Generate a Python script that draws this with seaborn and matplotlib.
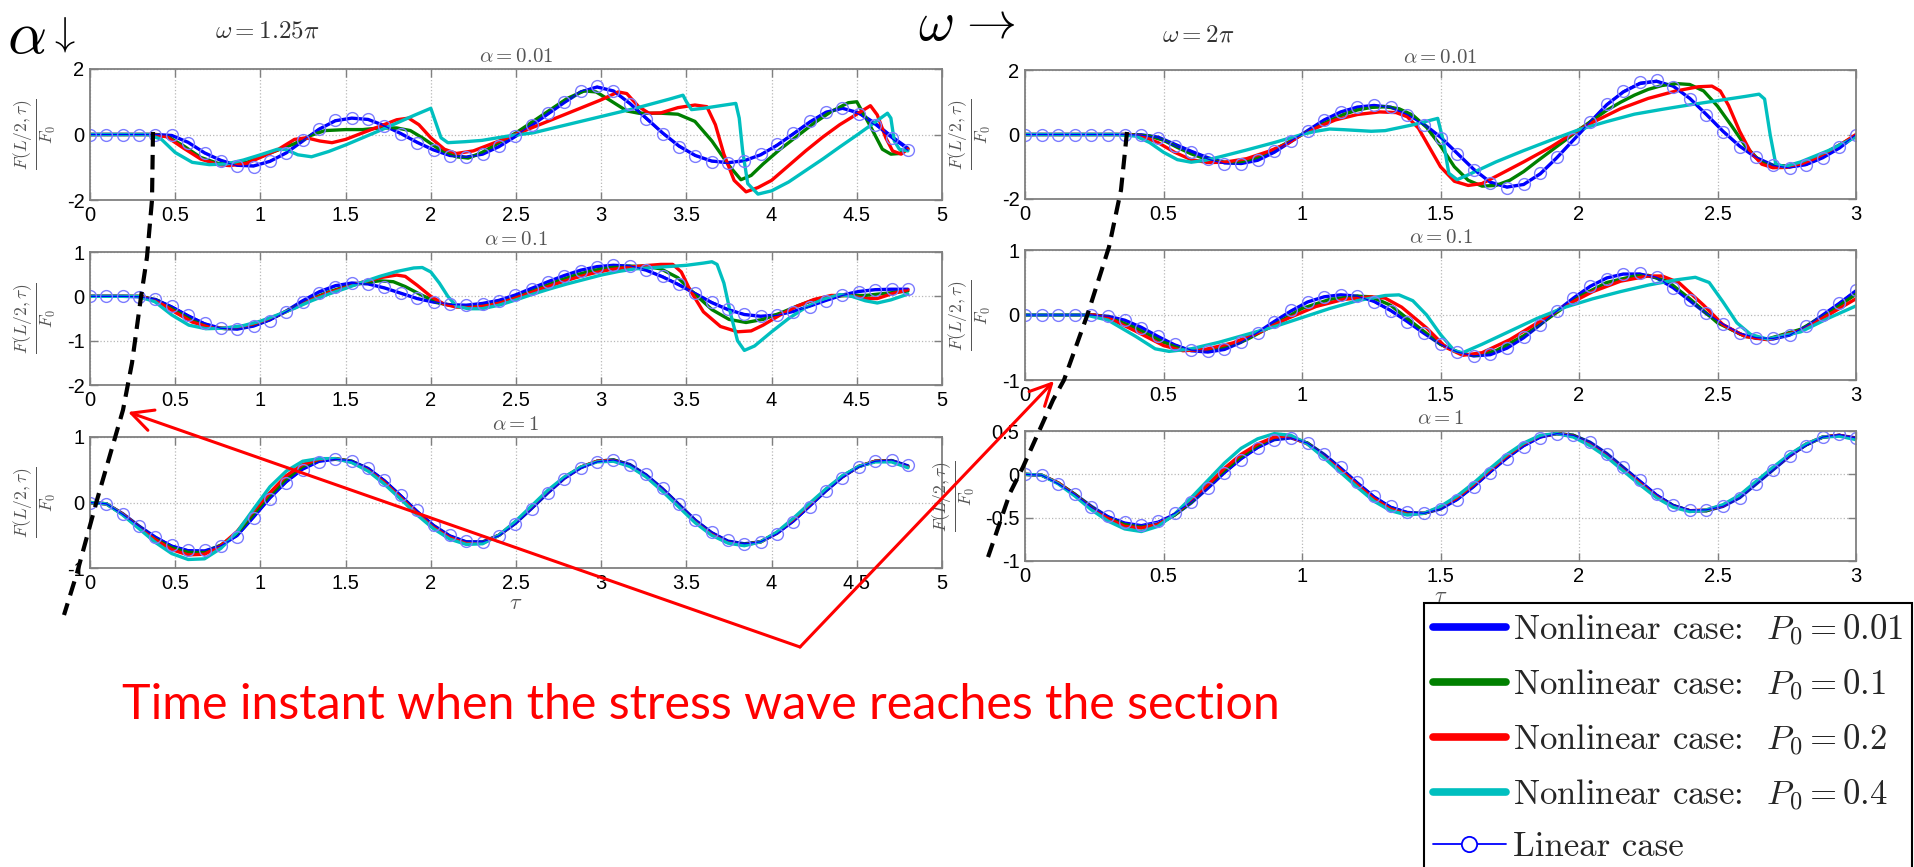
import numpy as np
import matplotlib
matplotlib.use("Agg")
import matplotlib.pyplot as plt
from matplotlib.lines import Line2D
from matplotlib.patches import FancyArrowPatch
from matplotlib.ticker import FuncFormatter
import seaborn as sns

# ---------------------------------------------------------------------------
# Sampling instants of the linear solution (one marker per sample)
# ---------------------------------------------------------------------------
TAU_W125 = np.linspace(0.0, 4.8, 51)
TAU_W2 = np.linspace(0.0, 3.0, 51)

P0_VALUES = [0.01, 0.1, 0.2, 0.4]
ALPHAS = [0.01, 0.1, 1]
OMEGA_LABELS = [r"$\omega = 1.25\pi$", r"$\omega = 2\pi$"]

# ---------------------------------------------------------------------------
# omega = 1.25 pi, alpha = 0.01
# ---------------------------------------------------------------------------
W125_A001_LIN = [0, 0, 0, 0, 0, -0.02, -0.25, -0.58, -0.80, -0.96,
                 -0.98, -0.80, -0.55, -0.18, 0.18, 0.44, 0.51, 0.46, 0.26, 0.02,
                 -0.25, -0.48, -0.65, -0.70, -0.60, -0.36, -0.04, 0.30, 0.66, 1.00,
                 1.32, 1.47, 1.32, 0.92, 0.46, 0.02, -0.38, -0.66, -0.83, -0.88,
                 -0.80, -0.60, -0.30, 0.05, 0.40, 0.70, 0.80, 0.62, 0.28, -0.12,
                 -0.48]
W125_A001_P001 = [0, 0, 0, 0, 0, -0.03, -0.24, -0.56, -0.79, -0.94,
                  -0.96, -0.82, -0.56, -0.20, 0.16, 0.42, 0.50, 0.46, 0.27, 0.03,
                  -0.24, -0.47, -0.64, -0.69, -0.60, -0.37, -0.06, 0.28, 0.63, 0.98,
                  1.30, 1.45, 1.33, 0.95, 0.50, 0.05, -0.35, -0.64, -0.81, -0.86,
                  -0.80, -0.62, -0.33, 0.02, 0.38, 0.68, 0.80, 0.66, 0.34, -0.06,
                  -0.42]
W125_A001_P01_TAU = [0, 0.36, 0.45, 0.55, 0.65, 0.75, 0.82, 0.92, 1.0, 1.1,
                     1.2, 1.3, 1.38, 1.5, 1.6, 1.7, 1.8, 1.88, 1.95, 2.05,
                     2.15, 2.22, 2.3, 2.4, 2.5, 2.6, 2.7, 2.8, 2.9, 2.97,
                     3.05, 3.15, 3.22, 3.35, 3.45, 3.55, 3.65, 3.75, 3.82, 3.88,
                     3.95, 4.05, 4.15, 4.25, 4.35, 4.45, 4.5, 4.58, 4.65, 4.7,
                     4.75, 4.8]
W125_A001_P01 = [0, 0, -0.05, -0.35, -0.7, -0.88, -0.92, -0.85, -0.68, -0.48,
                 -0.28, -0.02, 0.12, 0.15, 0.15, 0.2, 0.2, 0.12, -0.1, -0.45,
                 -0.68, -0.72, -0.55, -0.25, 0.05, 0.4, 0.75, 1.1, 1.33, 1.3,
                 1.05, 0.72, 0.65, 0.65, 0.62, 0.4, -0.2, -0.95, -1.38, -1.25,
                 -0.9, -0.45, -0.05, 0.35, 0.7, 0.97, 1.0, 0.25, -0.45, -0.6,
                 -0.58, -0.45]
W125_A001_P02_TAU = [0, 0.36, 0.45, 0.55, 0.65, 0.75, 0.82, 0.92, 1.0, 1.1,
                     1.2, 1.27, 1.35, 1.42, 1.5, 1.6, 1.7, 1.8, 1.87, 1.93,
                     2.0, 2.08, 2.15, 2.25, 2.4, 2.6, 2.8, 3.0, 3.1, 3.15,
                     3.22, 3.28, 3.35, 3.45, 3.55, 3.62, 3.67, 3.72, 3.78, 3.85,
                     3.92, 4.0, 4.1, 4.2, 4.3, 4.4, 4.5, 4.58, 4.62, 4.67,
                     4.71, 4.76, 4.8]
W125_A001_P02 = [0, 0, -0.07, -0.42, -0.75, -0.92, -0.95, -0.88, -0.7, -0.47,
                 -0.15, -0.1, -0.2, -0.25, -0.15, 0.05, 0.25, 0.45, 0.5, 0.3,
                 -0.1, -0.45, -0.58, -0.5, -0.2, 0.22, 0.64, 1.06, 1.3, 1.25,
                 0.85, 0.65, 0.66, 0.82, 0.9, 0.85, 0.3, -0.6, -1.4, -1.75,
                 -1.62, -1.4, -0.95, -0.5, -0.08, 0.3, 0.62, 0.88, 0.6, -0.1,
                 -0.5, -0.6, -0.44]
W125_A001_P04_TAU = [0, 0.34, 0.42, 0.5, 0.6, 0.7, 0.8, 0.9, 1.0, 1.1,
                     1.15, 1.22, 1.3, 1.4, 1.5, 1.6, 1.7, 1.8, 1.9, 2.0,
                     2.02, 2.06, 2.1, 2.2, 2.3, 2.45, 2.6, 2.8, 3.0, 3.2,
                     3.4, 3.48, 3.5, 3.53, 3.6, 3.7, 3.79, 3.81, 3.83, 3.86,
                     3.92, 4.0, 4.1, 4.2, 4.3, 4.4, 4.5, 4.6, 4.68, 4.7,
                     4.72, 4.75, 4.8]
W125_A001_P04 = [0, 0, -0.15, -0.55, -0.85, -0.92, -0.9, -0.78, -0.62, -0.45,
                 -0.46, -0.62, -0.68, -0.52, -0.32, -0.1, 0.12, 0.35, 0.58, 0.8,
                 0.5, -0.1, -0.25, -0.22, -0.18, -0.05, 0.05, 0.3, 0.55, 0.8,
                 1.08, 1.2, 1.0, 0.76, 0.8, 0.88, 0.95, 0.5, -0.5, -1.5,
                 -1.82, -1.72, -1.45, -1.1, -0.75, -0.38, -0.02, 0.35, 0.65, 0.5,
                 -0.2, -0.45, -0.5]

# ---------------------------------------------------------------------------
# omega = 1.25 pi, alpha = 0.1
# ---------------------------------------------------------------------------
W125_A01_LIN = [0, 0, 0, -0.01, -0.06, -0.22, -0.42, -0.6, -0.72, -0.74,
                -0.68, -0.55, -0.35, -0.12, 0.08, 0.22, 0.29, 0.28, 0.2, 0.08,
                -0.04, -0.12, -0.18, -0.2, -0.17, -0.1, 0.02, 0.17, 0.32, 0.46,
                0.58, 0.67, 0.71, 0.69, 0.6, 0.46, 0.28, 0.08, -0.12, -0.28,
                -0.4, -0.45, -0.43, -0.35, -0.23, -0.1, 0.02, 0.1, 0.15, 0.17,
                0.17]
W125_A01_P001 = [0, 0, 0, -0.01, -0.07, -0.24, -0.44, -0.62, -0.72, -0.74,
                 -0.67, -0.53, -0.33, -0.1, 0.1, 0.24, 0.3, 0.28, 0.19, 0.07,
                 -0.05, -0.13, -0.19, -0.2, -0.16, -0.09, 0.03, 0.18, 0.33, 0.47,
                 0.59, 0.67, 0.7, 0.68, 0.59, 0.44, 0.26, 0.06, -0.14, -0.3,
                 -0.41, -0.45, -0.42, -0.34, -0.22, -0.09, 0.03, 0.11, 0.15, 0.16,
                 0.16]
W125_A01_P01_TAU = [0, 0.3, 0.4, 0.5, 0.6, 0.7, 0.8, 0.9, 1.0, 1.1,
                    1.2, 1.3, 1.4, 1.5, 1.6, 1.7, 1.78, 1.85, 1.95, 2.05,
                    2.15, 2.25, 2.35, 2.45, 2.55, 2.65, 2.75, 2.85, 2.95, 3.05,
                    3.15, 3.25, 3.35, 3.45, 3.55, 3.65, 3.75, 3.85, 3.95, 4.05,
                    4.15, 4.25, 4.35, 4.45, 4.55, 4.65, 4.8]
W125_A01_P01 = [0, 0, -0.1, -0.32, -0.55, -0.7, -0.73, -0.7, -0.6, -0.44,
                -0.25, -0.06, 0.1, 0.22, 0.3, 0.35, 0.33, 0.22, 0.02, -0.15,
                -0.23, -0.24, -0.18, -0.08, 0.05, 0.2, 0.35, 0.48, 0.58, 0.65,
                0.68, 0.68, 0.62, 0.42, 0.05, -0.3, -0.52, -0.59, -0.52, -0.38,
                -0.22, -0.08, 0.0, 0.02, 0.02, 0.06, 0.12]
W125_A01_P02_TAU = [0, 0.3, 0.4, 0.5, 0.6, 0.7, 0.78, 0.9, 1.0, 1.1,
                    1.2, 1.3, 1.4, 1.5, 1.6, 1.7, 1.8, 1.85, 1.92, 2.0,
                    2.08, 2.15, 2.25, 2.35, 2.45, 2.55, 2.65, 2.75, 2.85, 2.95,
                    3.05, 3.15, 3.25, 3.35, 3.42, 3.47, 3.52, 3.6, 3.7, 3.8,
                    3.88, 3.95, 4.05, 4.15, 4.25, 4.35, 4.45, 4.55, 4.62, 4.7,
                    4.8]
W125_A01_P02 = [0, 0, -0.12, -0.36, -0.58, -0.7, -0.72, -0.68, -0.58, -0.43,
                -0.26, -0.08, 0.08, 0.2, 0.32, 0.42, 0.48, 0.45, 0.25, 0.0,
                -0.18, -0.24, -0.25, -0.2, -0.1, 0.03, 0.17, 0.3, 0.42, 0.52,
                0.6, 0.65, 0.69, 0.72, 0.72, 0.55, 0.15, -0.35, -0.68, -0.8,
                -0.78, -0.65, -0.42, -0.22, -0.07, 0.02, 0.02, -0.05, -0.05, 0.05,
                0.15]
W125_A01_P04_TAU = [0, 0.28, 0.38, 0.48, 0.58, 0.68, 0.78, 0.9, 1.0, 1.1,
                    1.2, 1.3, 1.4, 1.5, 1.6, 1.7, 1.8, 1.9, 1.95, 2.0,
                    2.05, 2.1, 2.15, 2.22, 2.3, 2.4, 2.5, 2.6, 2.7, 2.8,
                    2.9, 3.0, 3.1, 3.2, 3.35, 3.5, 3.6, 3.65, 3.68, 3.72,
                    3.76, 3.8, 3.84, 3.9, 4.0, 4.1, 4.2, 4.3, 4.4, 4.47,
                    4.55, 4.62, 4.7, 4.8]
W125_A01_P04 = [0, 0, -0.12, -0.42, -0.65, -0.73, -0.72, -0.66, -0.56, -0.42,
                -0.27, -0.1, 0.05, 0.18, 0.32, 0.45, 0.56, 0.64, 0.65, 0.55,
                0.3, 0.0, -0.22, -0.28, -0.28, -0.2, -0.08, 0.05, 0.17, 0.28,
                0.38, 0.48, 0.56, 0.62, 0.66, 0.7, 0.75, 0.78, 0.72, 0.3,
                -0.4, -1.0, -1.22, -1.12, -0.8, -0.5, -0.25, -0.07, 0.04, 0.0,
                -0.1, -0.15, -0.08, 0.05]

# ---------------------------------------------------------------------------
# omega = 1.25 pi, alpha = 1
# ---------------------------------------------------------------------------
W125_A1_LIN = [0, -0.02, -0.18, -0.36, -0.52, -0.65, -0.72, -0.73, -0.66, -0.52,
               -0.24, 0.06, 0.3, 0.5, 0.62, 0.66, 0.64, 0.53, 0.35, 0.12,
               -0.12, -0.34, -0.5, -0.59, -0.6, -0.51, -0.33, -0.1, 0.14, 0.36,
               0.52, 0.62, 0.65, 0.58, 0.43, 0.22, -0.02, -0.26, -0.45, -0.58,
               -0.63, -0.6, -0.48, -0.3, -0.07, 0.17, 0.38, 0.54, 0.63, 0.65,
               0.57]
W125_A1_P001 = [0, -0.02, -0.17, -0.36, -0.53, -0.67, -0.74, -0.74, -0.66, -0.5,
                -0.22, 0.07, 0.32, 0.51, 0.63, 0.66, 0.63, 0.52, 0.33, 0.1,
                -0.14, -0.35, -0.51, -0.6, -0.6, -0.5, -0.32, -0.09, 0.15, 0.37,
                0.53, 0.63, 0.65, 0.58, 0.42, 0.21, -0.03, -0.27, -0.46, -0.59,
                -0.63, -0.6, -0.47, -0.28, -0.05, 0.18, 0.39, 0.55, 0.63, 0.64,
                0.56]
W125_A1_P01 = [0, -0.02, -0.18, -0.37, -0.55, -0.69, -0.76, -0.76, -0.65, -0.47,
               -0.18, 0.1, 0.36, 0.55, 0.65, 0.67, 0.63, 0.51, 0.32, 0.09,
               -0.15, -0.36, -0.52, -0.61, -0.61, -0.5, -0.31, -0.08, 0.16, 0.38,
               0.54, 0.63, 0.65, 0.57, 0.41, 0.2, -0.04, -0.28, -0.47, -0.6,
               -0.64, -0.6, -0.46, -0.27, -0.04, 0.19, 0.4, 0.55, 0.63, 0.64,
               0.55]
W125_A1_P02 = [0, -0.02, -0.18, -0.38, -0.57, -0.72, -0.8, -0.79, -0.66, -0.44,
               -0.13, 0.15, 0.41, 0.58, 0.66, 0.67, 0.62, 0.5, 0.31, 0.08,
               -0.16, -0.37, -0.53, -0.62, -0.62, -0.5, -0.3, -0.07, 0.17, 0.38,
               0.54, 0.63, 0.64, 0.56, 0.4, 0.19, -0.05, -0.29, -0.48, -0.61,
               -0.65, -0.6, -0.46, -0.26, -0.03, 0.2, 0.4, 0.55, 0.63, 0.63,
               0.54]
W125_A1_P04 = [0, -0.02, -0.19, -0.4, -0.61, -0.78, -0.87, -0.86, -0.7, -0.45,
               -0.1, 0.24, 0.48, 0.63, 0.67, 0.67, 0.61, 0.48, 0.28, 0.05,
               -0.19, -0.4, -0.56, -0.64, -0.63, -0.5, -0.29, -0.05, 0.19, 0.39,
               0.54, 0.62, 0.63, 0.55, 0.39, 0.17, -0.07, -0.31, -0.5, -0.62,
               -0.66, -0.6, -0.45, -0.24, -0.01, 0.21, 0.41, 0.55, 0.62, 0.62,
               0.53]

# ---------------------------------------------------------------------------
# omega = 2 pi, alpha = 0.01
# ---------------------------------------------------------------------------
W2_A001_LIN = [0, 0, 0, 0, 0, 0, 0, -0.02, -0.10, -0.35,
               -0.55, -0.76, -0.91, -0.92, -0.78, -0.52, -0.20, 0.12, 0.45, 0.70,
               0.86, 0.90, 0.84, 0.62, 0.30, -0.10, -0.60, -1.10, -1.50, -1.65,
               -1.55, -1.20, -0.70, -0.15, 0.40, 0.95, 1.35, 1.62, 1.68, 1.48,
               1.10, 0.60, 0.08, -0.38, -0.70, -0.96, -1.04, -0.96, -0.72, -0.40,
               0.0]
W2_A001_P001 = [0, 0, 0, 0, 0, 0, 0, -0.01, -0.08, -0.30,
                -0.52, -0.72, -0.87, -0.90, -0.80, -0.55, -0.22, 0.12, 0.45, 0.70,
                0.85, 0.90, 0.85, 0.64, 0.32, -0.08, -0.58, -1.08, -1.48, -1.63,
                -1.55, -1.22, -0.72, -0.17, 0.38, 0.92, 1.32, 1.58, 1.65, 1.50,
                1.12, 0.62, 0.10, -0.36, -0.72, -0.95, -1.00, -0.93, -0.72, -0.42,
                -0.02]
W2_A001_P01_TAU = [0, 0.38, 0.45, 0.5, 0.55, 0.6, 0.65, 0.7, 0.75, 0.8,
                   0.85, 0.9, 0.95, 1.0, 1.05, 1.1, 1.15, 1.2, 1.25, 1.3,
                   1.35, 1.4, 1.45, 1.5, 1.55, 1.6, 1.65, 1.7, 1.75, 1.8,
                   1.85, 1.9, 1.95, 2.0, 2.05, 2.1, 2.15, 2.2, 2.25, 2.3,
                   2.35, 2.4, 2.45, 2.5, 2.55, 2.6, 2.65, 2.7, 2.75, 2.8,
                   2.85, 2.9, 2.95, 3.0]
W2_A001_P01 = [0, 0, -0.05, -0.18, -0.4, -0.6, -0.75, -0.85, -0.87, -0.82,
               -0.68, -0.47, -0.24, 0.0, 0.22, 0.43, 0.62, 0.76, 0.84, 0.86,
               0.8, 0.6, 0.22, -0.35, -1.0, -1.42, -1.6, -1.58, -1.42, -1.15,
               -0.82, -0.5, -0.18, 0.15, 0.45, 0.75, 1.0, 1.22, 1.4, 1.52,
               1.58, 1.55, 1.35, 0.88, 0.28, -0.35, -0.8, -0.97, -0.98, -0.88,
               -0.72, -0.52, -0.28, -0.03]
W2_A001_P02_TAU = [0, 0.36, 0.42, 0.48, 0.54, 0.6, 0.66, 0.72, 0.8, 0.88,
                   0.95, 1.0, 1.05, 1.12, 1.2, 1.28, 1.34, 1.38, 1.42, 1.46,
                   1.5, 1.55, 1.6, 1.65, 1.7, 1.8, 1.9, 1.97, 2.05, 2.15,
                   2.25, 2.35, 2.43, 2.48, 2.51, 2.54, 2.58, 2.62, 2.66, 2.7,
                   2.75, 2.8, 2.85, 2.9, 2.95, 3.0]
W2_A001_P02 = [0, 0, -0.05, -0.25, -0.55, -0.78, -0.87, -0.86, -0.75, -0.52,
               -0.27, 0.0, 0.2, 0.45, 0.62, 0.7, 0.68, 0.55, 0.2, -0.4,
               -1.0, -1.45, -1.58, -1.52, -1.3, -0.85, -0.38, 0.0, 0.38, 0.8,
               1.12, 1.35, 1.48, 1.5, 1.35, 0.9, 0.1, -0.55, -0.92, -1.03,
               -1.02, -0.92, -0.75, -0.53, -0.28, 0.0]
W2_A001_P04_TAU = [0, 0.33, 0.4, 0.45, 0.5, 0.55, 0.6, 0.65, 0.7, 0.8,
                   0.9, 1.0, 1.05, 1.1, 1.15, 1.25, 1.3, 1.4, 1.49, 1.51,
                   1.53, 1.56, 1.6, 1.7, 1.8, 1.9, 2.0, 2.1, 2.2, 2.3,
                   2.4, 2.5, 2.6, 2.65, 2.67, 2.69, 2.71, 2.74, 2.8, 2.9,
                   3.0]
W2_A001_P04 = [0, 0, -0.05, -0.25, -0.55, -0.78, -0.86, -0.8, -0.7, -0.48,
               -0.25, 0.0, 0.1, 0.17, 0.15, 0.1, 0.12, 0.3, 0.5, -0.2,
               -1.2, -1.4, -1.25, -0.85, -0.5, -0.17, 0.15, 0.4, 0.63, 0.78,
               0.92, 1.05, 1.18, 1.25, 1.1, 0.0, -0.9, -1.0, -0.85, -0.5,
               -0.08]

# ---------------------------------------------------------------------------
# omega = 2 pi, alpha = 0.1
# ---------------------------------------------------------------------------
W2_A01_LIN = [0, 0, 0, 0, 0, -0.02, -0.08, -0.2, -0.33, -0.45,
              -0.54, -0.56, -0.52, -0.42, -0.27, -0.1, 0.07, 0.2, 0.28, 0.31,
              0.29, 0.2, 0.06, -0.1, -0.28, -0.45, -0.57, -0.63, -0.6, -0.5,
              -0.34, -0.15, 0.06, 0.26, 0.44, 0.56, 0.63, 0.64, 0.58, 0.42,
              0.23, 0.03, -0.14, -0.28, -0.35, -0.36, -0.31, -0.17, 0.0, 0.19,
              0.39]
W2_A01_P001 = [0, 0, 0, 0, 0, -0.02, -0.08, -0.19, -0.33, -0.46,
               -0.55, -0.57, -0.53, -0.42, -0.27, -0.1, 0.06, 0.2, 0.28, 0.31,
               0.29, 0.21, 0.07, -0.1, -0.28, -0.45, -0.57, -0.63, -0.61, -0.51,
               -0.35, -0.15, 0.06, 0.26, 0.44, 0.57, 0.63, 0.63, 0.57, 0.42,
               0.22, 0.02, -0.15, -0.29, -0.36, -0.37, -0.31, -0.18, 0.0, 0.18,
               0.37]
W2_A01_P01_TAU = [0, 0.25, 0.3, 0.4, 0.5, 0.58, 0.65, 0.72, 0.8, 0.9,
                  1.0, 1.1, 1.2, 1.25, 1.32, 1.4, 1.5, 1.58, 1.63, 1.7,
                  1.8, 1.9, 2.0, 2.1, 2.2, 2.25, 2.32, 2.4, 2.5, 2.6,
                  2.68, 2.8, 2.9, 3.0]
W2_A01_P01 = [0, 0, -0.03, -0.2, -0.42, -0.53, -0.54, -0.5, -0.38, -0.15,
              0.1, 0.24, 0.29, 0.28, 0.15, -0.12, -0.45, -0.6, -0.62, -0.55,
              -0.32, -0.02, 0.28, 0.5, 0.6, 0.61, 0.52, 0.25, -0.12, -0.33,
              -0.37, -0.22, 0.03, 0.32]
W2_A01_P02_TAU = [0, 0.25, 0.3, 0.4, 0.5, 0.57, 0.65, 0.75, 0.85, 0.95,
                  1.05, 1.15, 1.25, 1.3, 1.36, 1.45, 1.52, 1.58, 1.65, 1.75,
                  1.85, 1.95, 2.05, 2.15, 2.25, 2.3, 2.36, 2.45, 2.52, 2.6,
                  2.68, 2.8, 2.9, 3.0]
W2_A01_P02 = [0, 0, -0.04, -0.25, -0.47, -0.55, -0.53, -0.43, -0.26, -0.05,
              0.13, 0.24, 0.28, 0.26, 0.12, -0.2, -0.5, -0.62, -0.58, -0.38,
              -0.12, 0.14, 0.36, 0.52, 0.6, 0.6, 0.5, 0.15, -0.15, -0.33,
              -0.38, -0.24, 0.0, 0.25]
W2_A01_P04_TAU = [0, 0.22, 0.3, 0.4, 0.47, 0.52, 0.6, 0.7, 0.8, 0.9,
                  1.0, 1.1, 1.2, 1.3, 1.35, 1.4, 1.45, 1.5, 1.55, 1.58,
                  1.65, 1.75, 1.85, 1.95, 2.05, 2.15, 2.25, 2.35, 2.42, 2.47,
                  2.52, 2.57, 2.62, 2.68, 2.8, 2.9, 3.0]
W2_A01_P04 = [0, 0, -0.08, -0.33, -0.52, -0.56, -0.52, -0.42, -0.3, -0.18,
              -0.04, 0.1, 0.22, 0.3, 0.31, 0.22, 0.0, -0.3, -0.55, -0.58,
              -0.45, -0.25, -0.05, 0.12, 0.25, 0.36, 0.46, 0.54, 0.58, 0.5,
              0.2, -0.12, -0.3, -0.37, -0.26, -0.05, 0.14]

# ---------------------------------------------------------------------------
# omega = 2 pi, alpha = 1
# ---------------------------------------------------------------------------
W2_A1_LIN = [0, -0.01, -0.11, -0.23, -0.38, -0.48, -0.55, -0.58, -0.54, -0.45,
             -0.32, -0.16, 0.01, 0.17, 0.3, 0.4, 0.42, 0.36, 0.23, 0.08,
             -0.09, -0.25, -0.37, -0.43, -0.45, -0.4, -0.3, -0.15, 0.02, 0.18,
             0.32, 0.42, 0.47, 0.45, 0.37, 0.24, 0.08, -0.07, -0.23, -0.35,
             -0.41, -0.41, -0.37, -0.27, -0.11, 0.05, 0.21, 0.33, 0.43, 0.46,
             0.42]
W2_A1_P001 = [0, -0.01, -0.1, -0.23, -0.37, -0.49, -0.57, -0.6, -0.57, -0.47,
              -0.33, -0.16, 0.02, 0.18, 0.31, 0.4, 0.42, 0.36, 0.23, 0.07,
              -0.1, -0.26, -0.38, -0.44, -0.45, -0.4, -0.29, -0.14, 0.03, 0.19,
              0.33, 0.43, 0.47, 0.45, 0.37, 0.24, 0.08, -0.08, -0.24, -0.36,
              -0.42, -0.42, -0.37, -0.27, -0.11, 0.05, 0.21, 0.34, 0.43, 0.45,
              0.42]
W2_A1_P01 = [0, -0.01, -0.1, -0.23, -0.38, -0.5, -0.58, -0.61, -0.58, -0.47,
             -0.32, -0.14, 0.04, 0.2, 0.33, 0.41, 0.43, 0.36, 0.22, 0.06,
             -0.11, -0.27, -0.39, -0.45, -0.45, -0.39, -0.28, -0.13, 0.04, 0.2,
             0.34, 0.44, 0.47, 0.45, 0.36, 0.23, 0.07, -0.09, -0.25, -0.36,
             -0.42, -0.42, -0.36, -0.26, -0.1, 0.06, 0.22, 0.34, 0.43, 0.45,
             0.41]
W2_A1_P02 = [0, -0.01, -0.1, -0.24, -0.39, -0.51, -0.6, -0.62, -0.58, -0.46,
             -0.3, -0.12, 0.07, 0.23, 0.35, 0.43, 0.43, 0.35, 0.21, 0.05,
             -0.12, -0.28, -0.4, -0.46, -0.45, -0.38, -0.27, -0.12, 0.05, 0.21,
             0.35, 0.44, 0.47, 0.44, 0.35, 0.22, 0.06, -0.1, -0.25, -0.37,
             -0.42, -0.41, -0.36, -0.25, -0.09, 0.07, 0.22, 0.35, 0.43, 0.45,
             0.41]
W2_A1_P04 = [0, -0.01, -0.11, -0.25, -0.41, -0.54, -0.63, -0.66, -0.6, -0.46,
             -0.27, -0.07, 0.13, 0.3, 0.41, 0.47, 0.45, 0.35, 0.19, 0.02,
             -0.15, -0.31, -0.42, -0.47, -0.45, -0.37, -0.25, -0.1, 0.07, 0.23,
             0.36, 0.45, 0.47, 0.43, 0.33, 0.2, 0.04, -0.12, -0.27, -0.38,
             -0.43, -0.41, -0.35, -0.24, -0.08, 0.08, 0.23, 0.35, 0.43, 0.44,
             0.4]

# ---------------------------------------------------------------------------
# Styling
# ---------------------------------------------------------------------------
sns.set_theme(style="white")
plt.rcParams.update({
    "font.family": ["Liberation Sans", "DejaVu Sans"],
    "mathtext.fontset": "cm",
    "axes.unicode_minus": False,
})

W, H = 1915, 867
fig = plt.figure(figsize=(W / 100, H / 100), dpi=100)


def fx(px):
    return px / W


def fy(py):
    return 1.0 - py / H


def rect(x0, y0, x1, y1):
    return [fx(x0), fy(y1), (x1 - x0) / W, (y1 - y0) / H]


FRAME_GRAY = "#808080"
TEXT_GRAY = "#555555"
SERIES_COLORS = ["#0000ff", "#008000", "#ff0000", "#00bfbf"]
MARKER_EDGE = "#7c7cff"
num_fmt = FuncFormatter(lambda v, _: f"{v:g}")


def draw_panel(box, xmax, ylim, yticks, alpha, tau_grid, lin, series, show_xlabel):
    ax = fig.add_axes(box)
    for (tau, vals), col in zip(series, SERIES_COLORS):
        sns.lineplot(x=np.asarray(tau, float), y=np.asarray(vals, float), ax=ax,
                     color=col, linewidth=2.4, estimator=None, sort=False,
                     legend=False)
    sns.lineplot(x=tau_grid, y=np.asarray(lin, float), ax=ax, color="#0000ff",
                 linewidth=0.9, marker="o", markersize=8.5,
                 markerfacecolor="none", markeredgecolor=MARKER_EDGE,
                 markeredgewidth=1.0, estimator=None, sort=False, legend=False)
    ax.set_xlim(0, xmax)
    ax.set_ylim(*ylim)
    ax.set_xticks(np.arange(0, xmax + 0.01, 0.5))
    ax.set_yticks(yticks)
    ax.xaxis.set_major_formatter(num_fmt)
    ax.yaxis.set_major_formatter(num_fmt)
    ax.grid(True, linestyle=":", color="#b8b8b8", linewidth=0.9)
    ax.set_axisbelow(True)
    ax.tick_params(direction="in", length=6, width=1, color=FRAME_GRAY,
                   labelcolor="black", labelsize=14.5, pad=4,
                   bottom=True, left=True, top=True, right=True)
    for sp in ax.spines.values():
        sp.set_color(FRAME_GRAY)
        sp.set_linewidth(1.3)
    ax.set_title(rf"$\alpha = {alpha:g}$", color=TEXT_GRAY, fontsize=15, pad=5)
    ax.set_ylabel(r"$\frac{F(L/2,\tau)}{F_0}$", color=TEXT_GRAY, fontsize=18,
                  labelpad=6)
    if show_xlabel:
        ax.set_xlabel(r"$\tau$", color=TEXT_GRAY, fontsize=16, labelpad=0)
    else:
        ax.set_xlabel("")
    return ax


left_boxes = [rect(90, 69, 942, 200), rect(90, 252, 942, 385), rect(90, 437, 942, 568)]
right_boxes = [rect(1025, 70, 1856, 199), rect(1025, 250, 1856, 380), rect(1025, 431, 1856, 561)]
left_ylims = [((-2, 2), [-2, 0, 2]), ((-2, 1), [-2, -1, 0, 1]), ((-1, 1), [-1, 0, 1])]
right_ylims = [((-2, 2), [-2, 0, 2]), ((-1, 1), [-1, 0, 1]), ((-1, 0.5), [-1, -0.5, 0, 0.5])]

left_data = [
    (W125_A001_LIN, [(TAU_W125, W125_A001_P001), (W125_A001_P01_TAU, W125_A001_P01),
                     (W125_A001_P02_TAU, W125_A001_P02), (W125_A001_P04_TAU, W125_A001_P04)]),
    (W125_A01_LIN, [(TAU_W125, W125_A01_P001), (W125_A01_P01_TAU, W125_A01_P01),
                    (W125_A01_P02_TAU, W125_A01_P02), (W125_A01_P04_TAU, W125_A01_P04)]),
    (W125_A1_LIN, [(TAU_W125, W125_A1_P001), (TAU_W125, W125_A1_P01),
                   (TAU_W125, W125_A1_P02), (TAU_W125, W125_A1_P04)]),
]
right_data = [
    (W2_A001_LIN, [(TAU_W2, W2_A001_P001), (W2_A001_P01_TAU, W2_A001_P01),
                   (W2_A001_P02_TAU, W2_A001_P02), (W2_A001_P04_TAU, W2_A001_P04)]),
    (W2_A01_LIN, [(TAU_W2, W2_A01_P001), (W2_A01_P01_TAU, W2_A01_P01),
                  (W2_A01_P02_TAU, W2_A01_P02), (W2_A01_P04_TAU, W2_A01_P04)]),
    (W2_A1_LIN, [(TAU_W2, W2_A1_P001), (TAU_W2, W2_A1_P01),
                 (TAU_W2, W2_A1_P02), (TAU_W2, W2_A1_P04)]),
]

for i in range(3):
    (ylim, yt), (lin, ser) = left_ylims[i], left_data[i]
    draw_panel(left_boxes[i], 5, ylim, yt, ALPHAS[i], TAU_W125, lin, ser, i == 2)
    (ylim, yt), (lin, ser) = right_ylims[i], right_data[i]
    draw_panel(right_boxes[i], 3, ylim, yt, ALPHAS[i], TAU_W2, lin, ser, i == 2)

# column headers
fig.text(fx(267), fy(31), OMEGA_LABELS[0], color="#333333", fontsize=18,
         ha="center", va="center")
fig.text(fx(1198), fy(35), OMEGA_LABELS[1], color="#333333", fontsize=18,
         ha="center", va="center")
fig.text(fx(7), fy(53), r"$\alpha$", fontsize=44, color="black", ha="left", va="baseline")
fig.text(fx(47), fy(45), r"$\downarrow$", fontsize=29, color="black", ha="left", va="baseline")
fig.text(fx(918), fy(40), r"$\omega$", fontsize=40, color="black", ha="left", va="baseline")
fig.text(fx(958), fy(37), r"$\rightarrow$", fontsize=36, color="black", ha="left", va="baseline")

# wave-front arrival curves
FRONT_LEFT = [(153, 132), (152, 200), (147, 257), (141, 297), (132, 363),
              (123, 410), (97, 500), (77, 573), (64, 615)]
FRONT_RIGHT = [(1127, 132), (1121, 190), (1109, 247), (1088, 313), (1064, 380),
               (1053, 400), (1023, 467), (1010, 493), (986, 563)]
for path in (FRONT_LEFT, FRONT_RIGHT):
    fig.add_artist(Line2D([fx(p[0]) for p in path], [fy(p[1]) for p in path],
                          transform=fig.transFigure, color="black", linewidth=3,
                          linestyle=(0, (3.5, 2.0))))

# pointer arrows and note
APEX = (800, 647)
for tip in [(128, 412), (1054, 381)]:
    fig.add_artist(FancyArrowPatch(posA=(fx(APEX[0]), fy(APEX[1])),
                                   posB=(fx(tip[0]), fy(tip[1])),
                                   transform=fig.transFigure, color="red",
                                   linewidth=2.2, shrinkA=0, shrinkB=0,
                                   arrowstyle="->,head_length=1.1,head_width=0.55",
                                   mutation_scale=14))
note = fig.text(fx(122), fy(705), "Time instant when the stress wave reaches the section",
                color="red", fontsize=36, family=["Lato", "DejaVu Sans"],
                ha="left", va="center")
fig.canvas.draw()
nb = note.get_window_extent()
note.set_fontsize(note.get_fontsize() * 1160.0 / nb.width)

# legend
handles = [Line2D([], [], color=c, linewidth=5.5) for c in SERIES_COLORS]
handles.append(Line2D([], [], color="#0000ff", linewidth=1.3, marker="o",
                      markersize=11, markerfacecolor="white",
                      markeredgecolor="#0000ff", markeredgewidth=1.3))
labels = [f"Nonlinear case:  $P_0 = {p:g}$" for p in P0_VALUES] + ["Linear case"]
leg = fig.legend(handles, labels, loc="upper left",
                 bbox_to_anchor=(fx(1424), fy(603)), borderaxespad=0,
                 prop={"family": "cmr10", "size": 25}, frameon=True,
                 fancybox=False, edgecolor="black", framealpha=1,
                 borderpad=0.25, labelspacing=0.55, handlelength=2.1,
                 handletextpad=0.2)
leg.get_frame().set_linewidth(1.5)

fig.savefig("out.png", dpi=100)
